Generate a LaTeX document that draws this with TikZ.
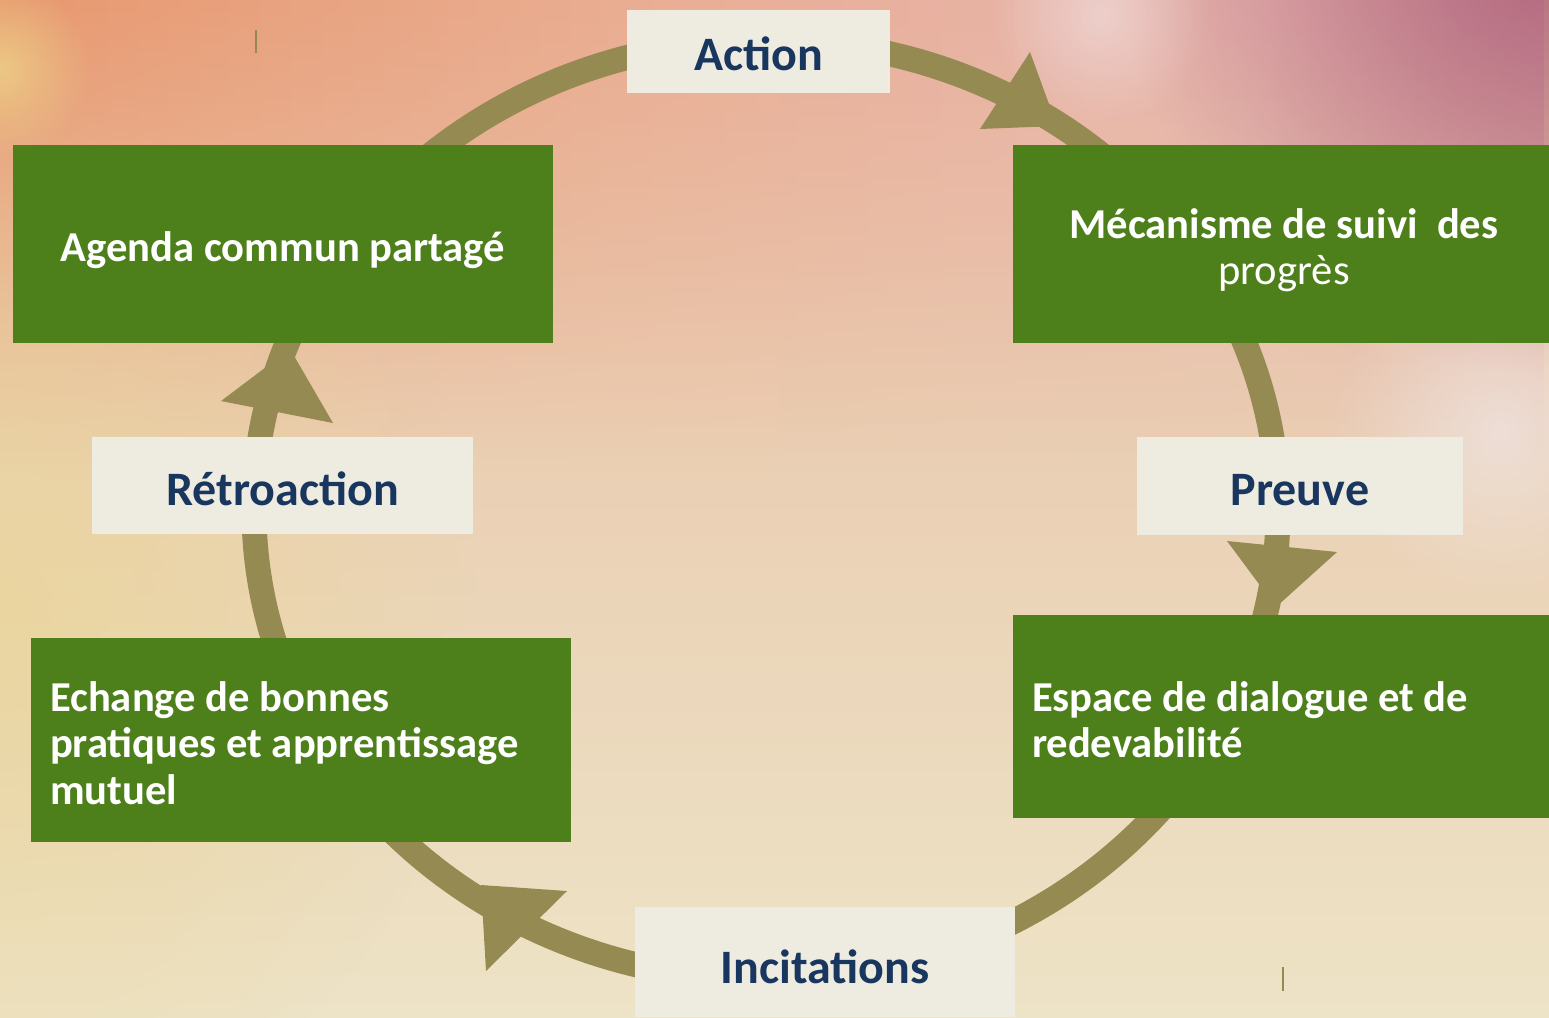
\documentclass[tikz,border=0pt]{standalone}
\usepackage{fontspec}
\setmainfont[Ligatures=Common]{Carlito}
\usetikzlibrary{fadings}
\definecolor{ringc}{RGB}{149,138,82}
\definecolor{greenc}{RGB}{77,127,27}
\definecolor{labelbg}{RGB}{238,235,224}
\definecolor{labeltxt}{RGB}{24,54,94}
\definecolor{bgtop}{RGB}{232,192,165}
\definecolor{bgmid}{RGB}{236,218,204}
\definecolor{bgbot}{RGB}{237,227,198}
\definecolor{tba}{RGB}{233,184,122}
\definecolor{tbb}{RGB}{232,150,106}
\definecolor{tbc}{RGB}{234,173,146}
\definecolor{tbd}{RGB}{232,182,176}
\definecolor{tbe}{RGB}{214,150,160}
\definecolor{tbf}{RGB}{196,120,140}
\definecolor{mauve}{RGB}{168,92,118}
\definecolor{leftyel}{RGB}{234,214,150}
\definecolor{blobyel}{RGB}{236,200,132}
\definecolor{blobpink}{RGB}{238,214,212}
\definecolor{blobwhite}{RGB}{240,230,230}
\pgfdeclarehorizontalshading{topband}{100bp}{color(0bp)=(tba); color(4bp)=(tbb); color(22bp)=(tbb); color(45bp)=(tbc); color(66bp)=(tbd); color(82bp)=(tbe); color(100bp)=(tbf)}
\tikzfading[name=fadedown, top color=transparent!0, bottom color=transparent!100]
\tikzfading[name=softglow, inner color=transparent!0, outer color=transparent!100]
\tikzset{
  gbox/.style={fill=greenc, inner sep=0pt},
  gtext/.style={text=white, font=\bfseries\fontsize{42.6}{46.5}\selectfont, inner sep=0pt},
  lbox/.style={fill=labelbg, inner sep=0pt},
  ltext/.style={text=labeltxt, font=\bfseries\fontsize{48}{56}\selectfont, inner sep=0pt},
  ringline/.style={draw=ringc, line width=25pt},
  headtri/.style={fill=ringc},
  tick/.style={draw=ringc, line width=1.2pt}
}
\begin{document}
\begin{tikzpicture}[x=1pt, y=-1pt]
\useasboundingbox (0,0) rectangle (1549,1017);
% background
\shade[top color=bgtop, middle color=bgmid, bottom color=bgbot] (0,0) rectangle (1549,1017);
\shade[shading=topband, path fading=fadedown] (0,0) rectangle (1549,470);
\fill[leftyel, path fading=softglow, fill opacity=0.7] (0,620) ellipse [x radius=480pt, y radius=520pt];
\fill[blobyel, path fading=softglow] (0,70) circle (90);
\fill[mauve, path fading=softglow, fill opacity=0.85] (1549,-60) circle (430);
\fill[blobpink, path fading=softglow, fill opacity=0.8] (1100,15) circle (110);
\fill[blobwhite, path fading=softglow, fill opacity=0.7] (1500,430) circle (170);
% ring
\draw[ringline] (766,510) ellipse [x radius=512pt, y radius=470pt];
\fill[headtri] (1030,52) -- (980,129) -- (1057,126) -- cycle;
\fill[headtri] (1227,541) -- (1337,552) -- (1276,607) -- cycle;
\fill[headtri] (567,891) -- (486,971) -- (481,885) -- cycle;
\fill[headtri] (221,401) -- (333,423) -- (290,349) -- cycle;
\draw[tick] (256,30) -- (256,53);
\draw[tick] (1283,967) -- (1283,991);
% label boxes
\node[lbox, minimum width=263pt, minimum height=83pt] (action) at (758.5,51.5) {};
\node[ltext] (actiont) at ([yshift=-2pt]action.center) {Action};
\node[lbox, minimum width=381pt, minimum height=97pt] (retro) at (282.5,485.5) {};
\node[ltext] (retrot) at ([yshift=-3pt]retro.center) {Rétroaction};
\node[lbox, minimum width=326pt, minimum height=98pt] (preuve) at (1300,486) {};
\node[ltext] (preuvet) at ([yshift=-4pt]preuve.center) {Preuve};
\node[lbox, minimum width=380pt, minimum height=110pt] (incit) at (825,962) {};
\node[ltext] (incitt) at ([yshift=-5pt]incit.center) {Incitations};
% green boxes
\node[gbox, minimum width=540pt, minimum height=198pt] (agenda) at (283,244) {};
\node[gtext] (agendat) at ([yshift=-6pt]agenda.center) {Agenda commun partagé};
\node[gbox, minimum width=536pt, minimum height=198pt] (meca) at (1281,244) {};
\node[gtext, align=center] (mecat) at ([xshift=3pt, yshift=-6pt]meca.center) {Mécanisme de suivi\ \ des\\{\mdseries progrès}};
\node[gbox, minimum width=536pt, minimum height=203pt] (espace) at (1281,716.5) {};
\node[gtext, align=left, anchor=west] (espacet) at ([xshift=19pt, yshift=-3pt]espace.west) {Espace de dialogue et de\\redevabilité};
\node[gbox, minimum width=540pt, minimum height=204pt] (echange) at (301,740) {};
\node[gtext, align=left, anchor=west] (echanget) at ([xshift=19pt, yshift=-3pt]echange.west) {Echange de bonnes\\pratiques et apprentissage\\mutuel};
\end{tikzpicture}
\end{document}
